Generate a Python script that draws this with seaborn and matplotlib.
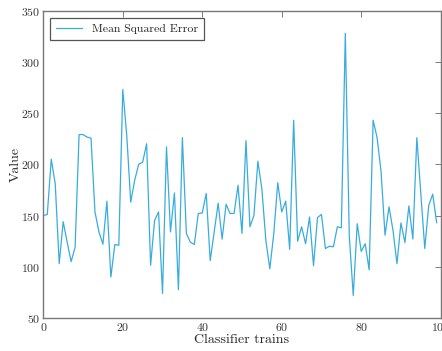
import numpy as np
import pandas as pd
import matplotlib
matplotlib.use('Agg')
import matplotlib.pyplot as plt
import seaborn as sns

# mean squared error per classifier train
mse = [150, 151, 205, 181, 103, 144, 124, 105, 119, 229,
       229, 226.5, 225.5, 153.5, 134, 122, 164, 90, 121.7, 121,
       273, 228, 163, 184.5, 200, 202, 220, 101.5, 145, 153.5,
       74, 217, 134, 172, 77.7, 226, 132.5, 124, 121.7, 152,
       152.5, 171.5, 106, 134, 162, 127, 161, 152, 152, 179.5,
       132.5, 223, 139, 150, 203, 176, 126, 98, 132.5, 182,
       153.5, 164, 117, 243, 125, 139, 122.5, 148.6, 101, 148,
       151, 117.8, 120, 119.5, 139, 138, 327.7, 130, 72, 142,
       115, 122.5, 97, 243, 226, 192.6, 130.8, 158.5, 135.6, 103,
       142.8, 123.6, 159.4, 127, 226, 171.5, 117.8, 160, 170.8, 142.8]
trains = list(range(len(mse)))

df = pd.DataFrame({'trains': trains, 'mse': mse})

sns.set_style('white')
plt.rcParams['font.family'] = ['cmr10', 'DejaVu Serif']
plt.rcParams['axes.formatter.use_mathtext'] = True
plt.rcParams['mathtext.fontset'] = 'cm'

fig = plt.figure(figsize=(4.42, 3.51), dpi=100)
ax = fig.add_axes([0.098, 0.094, 0.899, 0.876])

sns.lineplot(data=df, x='trains', y='mse', ax=ax, color='#38acdf',
             linewidth=0.9, label='Mean Squared Error')

ax.set_xlim(0, 100)
ax.set_ylim(50, 350)
ax.set_xticks(range(0, 101, 20))
ax.set_yticks(range(50, 351, 50))
ax.set_xlabel('Classifier trains', fontsize=10, labelpad=1)
ax.set_ylabel('Value', fontsize=10)
ax.yaxis.set_label_coords(-0.055, 0.5)
ax.tick_params(direction='in', top=True, right=True, length=4, width=0.6,
               colors='#666666', labelcolor='#333333', labelsize=8.5, pad=2)
for s in ax.spines.values():
    s.set_color('#777777')
    s.set_linewidth(1.0)

leg = ax.legend(loc='upper left', fontsize=8.5, fancybox=False,
                edgecolor='#555555', framealpha=1, handlelength=2.2,
                borderpad=0.5, borderaxespad=0.6)
leg.get_frame().set_linewidth(0.9)

fig.savefig('out.png', dpi=100)
